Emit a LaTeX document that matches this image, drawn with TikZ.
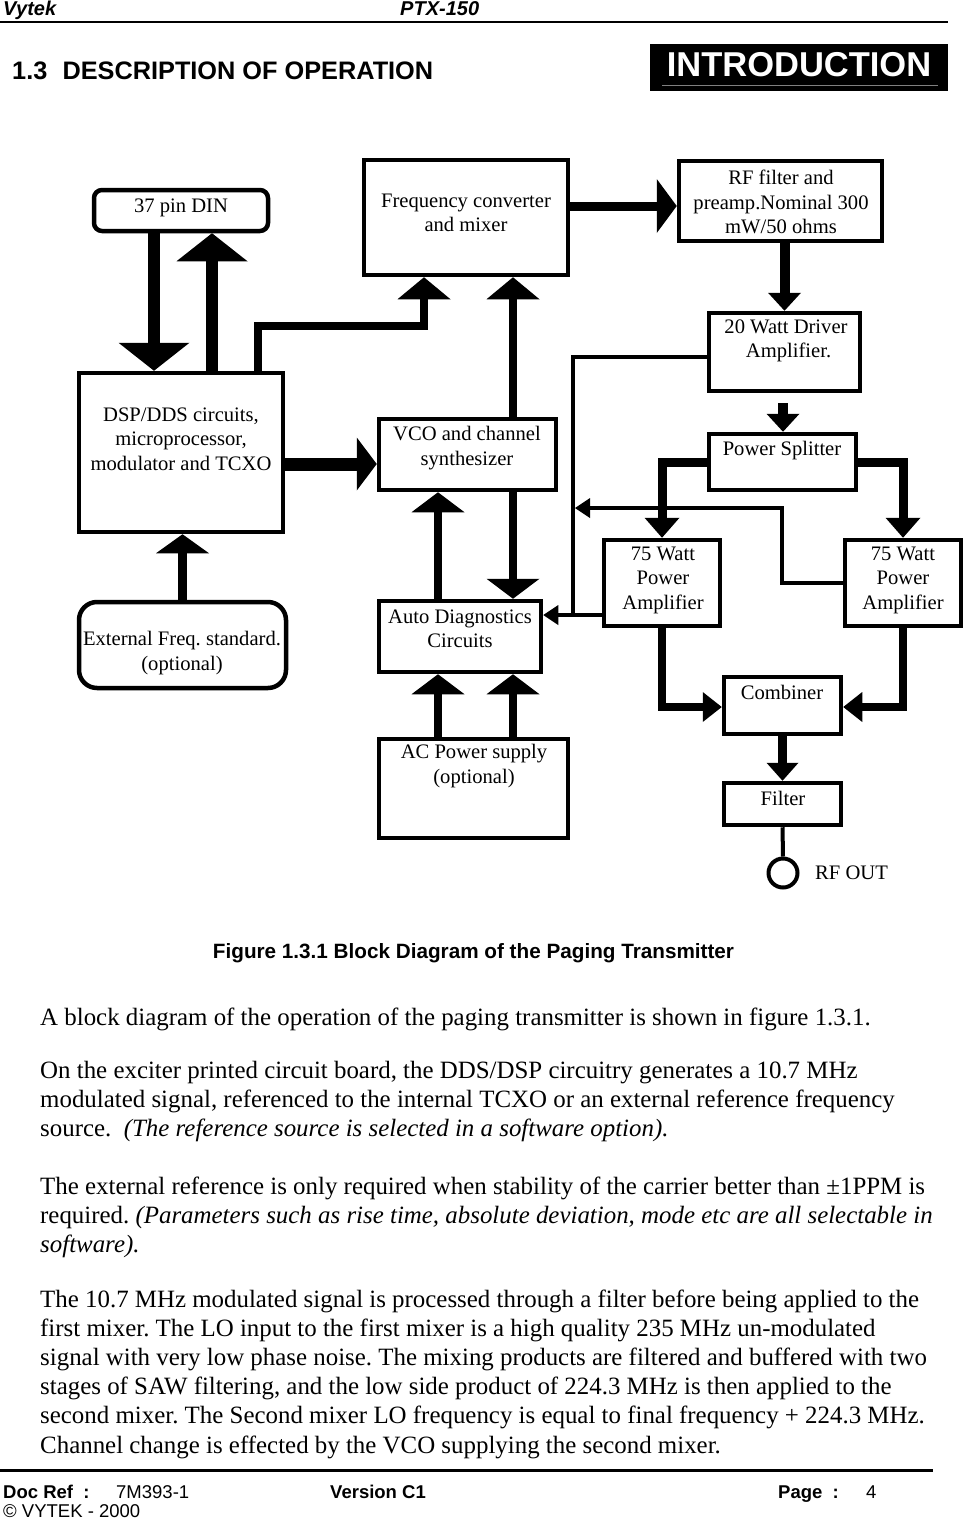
\documentclass[tikz,border=0pt]{standalone}
\usepackage{fontspec}
\setmainfont{Liberation Serif}
\setsansfont{Liberation Sans}
\usetikzlibrary{arrows.meta,calc,fit}
\frenchspacing
\newcommand{\dfont}{\fontsize{20.6}{24.5}\selectfont}
\newcommand{\bfont}{\fontsize{24.9}{29.2}\selectfont}
\newcommand{\ffont}{\fontsize{18.5}{22}\selectfont\sffamily}
\tikzset{
  box/.style={draw, line width=4.5pt, inner sep=0pt},
  txt/.style={align=center, inner sep=0pt, font=\dfont},
  fat/.style n args={3}{draw, line width=#1pt, line join=miter, line cap=butt, -{Triangle[width=#2pt,length=#3pt,line width=0pt]}},
  thinline/.style={draw, line width=4pt, line join=miter},
  thinar/.style={thinline, -{Triangle[width=20pt,length=15pt,line width=0pt]}},
  para/.style={anchor=base west, inner sep=0pt, font=\bfont},
  foot/.style={anchor=base west, inner sep=0pt, font=\ffont},
}
\begin{document}
\begin{tikzpicture}[x=1pt,y=-1pt]
\fill[white] (0,0) rectangle (965,1520);
\useasboundingbox (0,0) rectangle (965,1520);

% header
\node[anchor=base west, inner sep=0pt, font=\fontsize{20}{24}\selectfont\sffamily\bfseries\itshape] (hv) at (3,16) {Vytek};
\node[anchor=base west, inner sep=0pt, font=\fontsize{20}{24}\selectfont\sffamily\bfseries\itshape] (hp) at (400,16) {PTX-150};
\draw[line width=1.5pt] (0,22) -- (948,22);
\node[anchor=base west, inner sep=0pt, font=\fontsize{25.3}{30}\selectfont\sffamily\bfseries] (title) at (12,80) {1.3\hspace{0.6em}DESCRIPTION OF OPERATION};
\node[fill=black, inner sep=0pt, fit={(650,44) (948,91)}] (intro) {};
\node[anchor=base, inner sep=0pt, text=white, font=\fontsize{34.5}{40}\selectfont\sffamily\bfseries] (introt) at (799,76) {INTRODUCTION};
\draw[gray, line width=1pt] (662,85) -- (938,85);

% boxes
\node[box, rounded corners=8pt, fit={(94,190) (268,231)}] (din) {};
\node[box, fit={(364,160) (568,275)}] (freq) {};
\node[box, fit={(679,161) (882,241)}] (rf) {};
\node[box, fit={(709,313) (860,391)}] (drv) {};
\node[box, fit={(79,373) (283,532)}] (dsp) {};
\node[box, fit={(379,419) (556,490)}] (vco) {};
\node[box, fit={(709,434) (856,490)}] (spl) {};
\node[box, fit={(604,540) (720,626)}] (pal) {};
\node[box, fit={(845,540) (961,626)}] (par) {};
\node[box, fit={(379,601) (541,672)}] (diag) {};
\node[box, rounded corners=18pt, fit={(79,602) (286,688)}] (ext) {};
\node[box, fit={(724,677) (841,734)}] (comb) {};
\node[box, fit={(379,739) (568,838)}] (ac) {};
\node[box, fit={(724,783) (841,825)}] (filt) {};
\node[circle, draw, line width=4pt, minimum size=29pt, inner sep=0pt] (out) at (783,873) {};

% texts
\node[txt] (dint) at (181,208) {37 pin DIN};
\node[txt] (freqt) at (466,213) {Frequency converter\\and mixer};
\node[txt] (rft) at (781,202) {RF filter and\\preamp.Nominal 300\\mW/50 ohms};
\node[txt] (drvt) at (786,341) {20 Watt Driver\\\ Amplifier.};
\node[txt] (dspt) at (181,439) {DSP/DDS circuits,\\microprocessor,\\modulator and TCXO};
\node[txt] (vcot) at (467,448) {VCO and channel\\synthesizer};
\node[txt] (splt) at (782,451) {Power Splitter};
\node[txt] (palt) at (663,580) {75 Watt\\Power\\Amplifier};
\node[txt] (part) at (903,580) {75 Watt\\Power\\Amplifier};
\node[txt] (diagt) at (460,629) {Auto Diagnostics\\Circuits};
\node[txt] (extt) at (182,653) {External Freq. standard.\\(optional)};
\node[txt] (combt) at (782,692) {Combiner};
\node[txt] (act) at (474,766) {AC Power supply\\(optional)};
\node[txt] (filtt) at (783,798) {Filter};
\node[txt, anchor=west] (outt) at (815,873) {RF OUT};

% thick connectors
\draw[fat={12}{71}{28}] ($(din.south)+(-27,0)$) -- ($(dsp.north)+(-27,0)$);
\draw[fat={12}{71}{28}] ($(dsp.north)+(31,0)$) -- ($(din.south)+(31,0)$);
\draw[fat={8}{53}{22}] ($(dsp.north)+(77,0)$) |- ($(freq.south)+(-42,49)$) -- ($(freq.south)+(-42,0)$);
\coordinate (vf) at ($(vco.north)+(45.5,0)$);
\draw[fat={8}{53}{22}] (vf) -- (vf |- freq.south);
\coordinate (fr) at ($(freq.east)+(0,-11.5)$);
\draw[fat={9}{54}{20}] (fr) -- (fr -| rf.west);
\coordinate (dv) at ($(dsp.east)+(0,11.5)$);
\draw[fat={13}{53}{20}] (dv) -- (dv -| vco.west);
\coordinate (rd) at (drv.north |- rf.south);
\draw[fat={10}{33}{18}] (rd) -- (drv.north);
\coordinate (ds) at ($(drv.south)+(-1.5,10)$);
\draw[fat={10}{33}{18}] (ds) -- (ds |- spl.north);
\draw[fat={9}{35}{20}] (spl.west) -| (pal.north);
\draw[fat={9}{35}{20}] (spl.east) -| (par.north);
\draw[fat={8}{30}{19}] (pal.south) |- ($(comb.west)+(0,1.5)$);
\draw[fat={8}{30}{19}] (par.south) |- ($(comb.east)+(0,1.5)$);
\draw[fat={9}{32}{18}] (comb.south) -- (filt.north);
\draw[fat={9}{53}{19}] (ext.north) -- (ext.north |- dsp.south);
\coordinate (g1) at ($(diag.north)+(-22,0)$);
\draw[fat={8}{53}{20}] (g1) -- (g1 |- vco.south);
\coordinate (g2) at ($(vco.south)+(45.5,0)$);
\draw[fat={8}{53}{20}] (g2) -- (g2 |- diag.north);
\coordinate (c1) at ($(ac.north)+(-35.5,0)$);
\draw[fat={8}{53}{20}] (c1) -- (c1 |- diag.south);
\coordinate (c2) at ($(ac.north)+(39.5,0)$);
\draw[fat={8}{53}{20}] (c2) -- (c2 |- diag.south);

% thin connectors
\coordinate (bt) at (573,357);
\coordinate (bb) at (573,617);
\draw[thinline] ($(drv.west)+(0,5)$) -- (bt) -- (bb);
\coordinate (pw) at ($(pal.west)+(0,32)$);
\draw[thinar] (pw) -- (pw -| diag.east);
\coordinate (k) at (782,508);
\draw[thinar] (par.west) -| (k) -- ($(k -| bt)+(2,0)$);
\draw[thinline] (filt.south) -- (out.north);

% caption
\node[anchor=base, inner sep=0pt, font=\fontsize{20.7}{24}\selectfont\sffamily\bfseries] (cap) at (473.5,958) {Figure 1.3.1 Block Diagram of the Paging Transmitter};

% body
\node[para] (p1) at (40,1025) {\parbox[t]{925pt}{\raggedright A block diagram of the operation of the paging transmitter is shown in figure 1.3.1.}};
\node[para] (p2) at (40,1078) {\parbox[t]{925pt}{\raggedright On the exciter printed circuit board, the DDS/DSP circuitry generates a 10.7 MHz\\
modulated signal, referenced to the internal TCXO or an external reference frequency\\
source.\ \ \textit{(The reference source is selected in a software option).}}};
\node[para] (p3) at (40,1194) {\parbox[t]{925pt}{\raggedright The external reference is only required when stability of the carrier better than ±1PPM is\\
required. \textit{(Parameters such as rise time, absolute deviation, mode etc are all selectable in}\\
\textit{software).}}};
\node[para] (p4) at (40,1307) {\parbox[t]{925pt}{\raggedright The 10.7 MHz modulated signal is processed through a filter before being applied to the\\
first mixer. The LO input to the first mixer is a high quality 235 MHz un-modulated\\
signal with very low phase noise. The mixing products are filtered and buffered with two\\
stages of SAW filtering, and the low side product of 224.3 MHz is then applied to the\\
second mixer. The Second mixer LO frequency is equal to final frequency + 224.3 MHz.\\
Channel change is effected by the VCO supplying the second mixer.}};

% footer
\draw[line width=3pt] (0,1470) -- (933,1470);
\node[foot] (f1) at (3,1498) {\bfseries Doc Ref\ \ :};
\node[foot] (f2) at (116,1498) {7M393-1};
\node[foot] (f3) at (330,1498) {\bfseries Version C1};
\node[foot] (f4) at (778,1498) {\bfseries Page\ \ :};
\node[foot] (f5) at (866,1498) {4};
\node[foot] (f6) at (3,1517) {© VYTEK - 2000};
\end{tikzpicture}
\end{document}
